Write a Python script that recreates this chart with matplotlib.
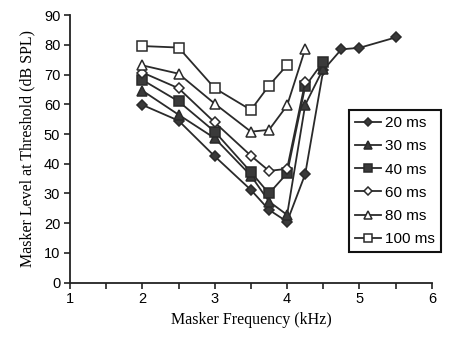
import matplotlib
matplotlib.use("Agg")
import matplotlib.pyplot as plt
from matplotlib.ticker import MultipleLocator

# Data
labels = ["20 ms", "30 ms", "40 ms", "60 ms", "80 ms", "100 ms"]
x20 = [2, 2.5, 3, 3.5, 3.75, 4, 4.25, 4.5, 4.75, 5, 5.5]
y20 = [59.8, 54.5, 42.5, 31.2, 24.5, 20.5, 36.5, 71.5, 78.5, 79.0, 82.5]
x30 = [2, 2.5, 3, 3.5, 3.75, 4, 4.25, 4.5]
y30 = [64.6, 56.5, 48.6, 36.0, 27.3, 22.8, 59.8, 72.0]
x40 = [2, 2.5, 3, 3.5, 3.75, 4, 4.25, 4.5]
y40 = [68.2, 61.0, 50.8, 37.2, 30.0, 36.8, 66.0, 74.4]
x60 = [2, 2.5, 3, 3.5, 3.75, 4, 4.25]
y60 = [70.7, 65.4, 53.9, 42.7, 37.6, 38.3, 67.5]
x80 = [2, 2.5, 3, 3.5, 3.75, 4, 4.25]
y80 = [73.1, 70.3, 60.2, 50.8, 51.4, 59.6, 78.6]
x100 = [2, 2.5, 3, 3.5, 3.75, 4]
y100 = [79.6, 79.1, 65.4, 58.1, 66.3, 73.2]

xs = [x20, x30, x40, x60, x80, x100]
ys = [y20, y30, y40, y60, y80, y100]
markers = ["D", "^", "s", "D", "^", "s"]
faces = ["#3a3a3a", "#3a3a3a", "#3a3a3a", "white", "white", "white"]
msizes = [5, 6.5, 6.5, 5, 7, 7]

fig = plt.figure(figsize=(4.5, 3.52), dpi=100)
ax = fig.add_axes([0.1556, 0.197, 0.804, 0.760])

for x, y, m, fc, ms, lab in zip(xs, ys, markers, faces, msizes, labels):
    ax.plot(x, y, color="#2a2a2a", lw=1.3, marker=m, markersize=ms,
            markerfacecolor=fc, markeredgecolor="#2a2a2a", markeredgewidth=1.1,
            label=lab)

ax.set_xlim(1, 6)
ax.set_ylim(0, 90)
ax.xaxis.set_major_locator(MultipleLocator(1))
ax.xaxis.set_minor_locator(MultipleLocator(0.5))
ax.yaxis.set_major_locator(MultipleLocator(10))
for s in ["top", "right"]:
    ax.spines[s].set_visible(False)
for s in ["left", "bottom"]:
    ax.spines[s].set_linewidth(1.3)
    ax.spines[s].set_color("#222222")
ax.tick_params(axis="both", which="both", direction="out", width=1.2, color="#222222")
ax.tick_params(axis="both", which="major", length=4, labelsize=10.5, pad=3)
ax.tick_params(axis="x", which="minor", length=4)
for t in ax.get_xticklabels() + ax.get_yticklabels():
    t.set_fontfamily("Liberation Sans")

ax.set_xlabel("Masker Frequency (kHz)", fontfamily="Liberation Serif", fontsize=11.5, labelpad=4)
ax.set_ylabel("Masker Level at Threshold (dB SPL)", fontfamily="Liberation Serif", fontsize=11.5, labelpad=6)

leg = ax.legend(loc="upper left", bbox_to_anchor=(0.772, 0.645), frameon=True, fancybox=False,
                prop={"family": "Liberation Sans", "size": 11}, handlelength=1.7,
                handletextpad=0.25, labelspacing=0.6, borderpad=0.4, borderaxespad=0,
                markerscale=0.85)
leg.get_frame().set_edgecolor("#111111")
leg.get_frame().set_linewidth(1.5)
leg.get_frame().set_alpha(1)

fig.savefig("out.png", dpi=100)
